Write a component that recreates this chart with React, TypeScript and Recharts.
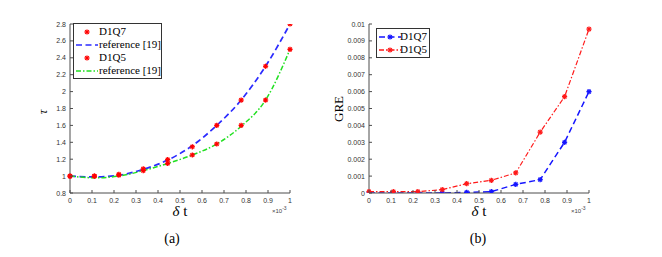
import React from 'react';
import { LineChart, Line, XAxis, YAxis } from 'recharts';

// delta t (x 1e-3)
const DELTA_T = [0, 0.111, 0.222, 0.333, 0.444, 0.556, 0.667, 0.778, 0.889, 1];

// panel (a): tau
const TAU_D1Q7 = [1.0, 1.0, 1.02, 1.085, 1.195, 1.347, 1.6, 1.9, 2.3, 2.8];
const TAU_REF7 = [1.0, 0.99, 1.01, 1.08, 1.19, 1.36, 1.6, 1.9, 2.3, 2.8];
const TAU_D1Q5 = [1.0, 1.0, 1.01, 1.065, 1.15, 1.25, 1.38, 1.6, 1.9, 2.5];
const TAU_REF5 = [1.0, 0.98, 1.0, 1.065, 1.15, 1.25, 1.38, 1.59, 1.9, 2.5];

// panel (b): GRE
const GRE_D1Q7 = [0, 0, 0, 0, 0.00004, 0.00008, 0.00051, 0.00079, 0.003, 0.006];
const GRE_D1Q5 = [0.00008, 0.00008, 0.00008, 0.0002, 0.00055, 0.00075, 0.00119, 0.0036, 0.0057, 0.0097];

const X_TICKS = [0, 0.1, 0.2, 0.3, 0.4, 0.5, 0.6, 0.7, 0.8, 0.9, 1];
const TAU_TICKS = [0.8, 1, 1.2, 1.4, 1.6, 1.8, 2, 2.2, 2.4, 2.6, 2.8];
const GRE_TICKS = [0, 0.001, 0.002, 0.003, 0.004, 0.005, 0.006, 0.007, 0.008, 0.009, 0.01];

const tauData = DELTA_T.map((x, i) => ({
  x, d1q7: TAU_D1Q7[i], ref7: TAU_REF7[i], d1q5: TAU_D1Q5[i], ref5: TAU_REF5[i],
}));
const greData = DELTA_T.map((x, i) => ({ x, d1q7: GRE_D1Q7[i], d1q5: GRE_D1Q5[i] }));

const AXIS = '#4d4d4d';
const TICK_FONT = 'Liberation Sans, Arial, sans-serif';
const SERIF = '"Liberation Serif", "Times New Roman", serif';
const BLUE_DASH = '6 3.5';
const DASH_DOT = '5 2 1.5 2';

function Star({ cx, cy, color }: any) {
  if (cx == null || cy == null) return null;
  const r = 2.6;
  const d = r * 0.72;
  return (
    <g stroke={color} strokeWidth={1.3}>
      <line x1={cx - r} y1={cy} x2={cx + r} y2={cy} />
      <line x1={cx} y1={cy - r} x2={cx} y2={cy + r} />
      <line x1={cx - d} y1={cy - d} x2={cx + d} y2={cy + d} />
      <line x1={cx - d} y1={cy + d} x2={cx + d} y2={cy - d} />
    </g>
  );
}

const fmt = (v: number) => String(Number(v.toFixed(4)));

function LeftTick({ x, y, payload }: any) {
  return (
    <g>
      <line x1={x + 4} x2={x + 7} y1={y} y2={y} stroke={AXIS} />
      <text x={x} y={y} dy={2.5} textAnchor="end" fontSize={7} fontFamily={TICK_FONT} fill="#333">
        {fmt(payload.value)}
      </text>
    </g>
  );
}
function BottomTick({ x, y, payload }: any) {
  return (
    <g>
      <line x1={x} x2={x} y1={y - 4} y2={y - 7} stroke={AXIS} />
      <text x={x} y={y} dy={6} textAnchor="middle" fontSize={7} fontFamily={TICK_FONT} fill="#333">
        {fmt(payload.value)}
      </text>
    </g>
  );
}
function RightTick({ x, y }: any) {
  return <line x1={x - 4} x2={x - 7} y1={y} y2={y} stroke={AXIS} />;
}
function TopTick({ x, y }: any) {
  return <line x1={x} x2={x} y1={y + 4} y2={y + 7} stroke={AXIS} />;
}

function Sample({ color, dash, marker }: { color?: string; dash?: string; marker?: string }) {
  return (
    <svg width={24} height={10} style={{ display: 'block' }}>
      {dash != null && (
        <line x1={1} x2={23} y1={5} y2={5} stroke={color} strokeWidth={1.6} strokeDasharray={dash} />
      )}
      {marker && <Star cx={12} cy={5} color={marker} />}
    </svg>
  );
}

const LEGEND_A = [
  { name: 'D1Q7', marker: 'red' },
  { name: 'reference [19]', color: '#2b2bff', dash: BLUE_DASH },
  { name: 'D1Q5', marker: 'red' },
  { name: 'reference [19]', color: '#22e022', dash: DASH_DOT },
];
const LEGEND_B = [
  { name: 'D1Q7', color: '#1515ff', dash: BLUE_DASH, marker: '#1515ff' },
  { name: 'D1Q5', color: '#ff1a1a', dash: DASH_DOT, marker: '#ff1a1a' },
];

function LegendBox({ items, left, top, width, sampleW = 24 }: any) {
  return (
    <div style={{
      position: 'absolute', left, top, width, border: '1px solid #333', background: '#fff',
      padding: '1px 0', boxSizing: 'border-box', whiteSpace: 'nowrap',
    }}>
      {items.map((it: any, i: number) => (
        <div key={i} style={{ display: 'flex', alignItems: 'center', height: 13 }}>
          <div style={{ width: sampleW, marginLeft: 1, flexShrink: 0 }}>
            <Sample color={it.color} dash={it.dash} marker={it.marker} />
          </div>
          <span style={{ fontFamily: SERIF, fontSize: 11, color: '#000', lineHeight: '13px' }}>{it.name}</span>
        </div>
      ))}
    </div>
  );
}

export default function App() {
  return (
    <div style={{ position: 'absolute', left: 0, top: 0, width: 662, height: 257, background: '#fff', overflow: 'hidden' }}>
      <div style={{ position: 'absolute', left: 0, top: 0 }}>
        <LineChart width={300} height={257} data={tauData} margin={{ top: 24, right: 10, bottom: 34, left: 0 }}>
          <XAxis
            dataKey="x" type="number" domain={[0, 1]} ticks={X_TICKS} height={30}
            stroke={AXIS} tickSize={0} tickMargin={4} tick={<BottomTick />} interval={0}
          />
          <XAxis
            xAxisId="top" orientation="top" dataKey="x" type="number" domain={[0, 1]} ticks={X_TICKS} height={0}
            stroke={AXIS} tickSize={0} tickMargin={4} tick={<TopTick />} interval={0}
          />
          <YAxis
            type="number" domain={[0.8, 2.8]} ticks={TAU_TICKS} width={70} allowDataOverflow
            stroke={AXIS} tickSize={0} tickMargin={4} tick={<LeftTick />} interval={0}
          />
          <YAxis
            yAxisId="right" orientation="right" type="number" domain={[0.8, 2.8]} ticks={TAU_TICKS} width={0}
            stroke={AXIS} tickSize={0} tickMargin={4} tick={<RightTick />} interval={0}
          />
          <Line dataKey="d1q7" name="D1Q7" stroke="none" isAnimationActive={false}
            dot={(p: any) => <Star key={p.index} cx={p.cx} cy={p.cy} color="red" />} />
          <Line dataKey="d1q5" name="D1Q5" stroke="none" isAnimationActive={false}
            dot={(p: any) => <Star key={p.index} cx={p.cx} cy={p.cy} color="red" />} />
          <Line dataKey="ref7" name="reference [19]" type="monotone" stroke="#2b2bff" strokeWidth={1.7}
            strokeDasharray={BLUE_DASH} dot={false} isAnimationActive={false} />
          <Line dataKey="ref5" name="reference [19]" type="monotone" stroke="#22e022" strokeWidth={1.5}
            strokeDasharray={DASH_DOT} dot={false} isAnimationActive={false} />
        </LineChart>
      </div>
      <div style={{ position: 'absolute', left: 300, top: 0 }}>
        <LineChart width={300} height={257} data={greData} margin={{ top: 24, right: 11, bottom: 34, left: 0 }}>
          <XAxis
            dataKey="x" type="number" domain={[0, 1]} ticks={X_TICKS} height={30}
            stroke={AXIS} tickSize={0} tickMargin={4} tick={<BottomTick />} interval={0}
          />
          <XAxis
            xAxisId="top" orientation="top" dataKey="x" type="number" domain={[0, 1]} ticks={X_TICKS} height={0}
            stroke={AXIS} tickSize={0} tickMargin={4} tick={<TopTick />} interval={0}
          />
          <YAxis
            type="number" domain={[0, 0.01]} ticks={GRE_TICKS} width={69} allowDataOverflow
            stroke={AXIS} tickSize={0} tickMargin={4} tick={<LeftTick />} interval={0}
          />
          <YAxis
            yAxisId="right" orientation="right" type="number" domain={[0, 0.01]} ticks={GRE_TICKS} width={0}
            stroke={AXIS} tickSize={0} tickMargin={4} tick={<RightTick />} interval={0}
          />
          <Line dataKey="d1q7" name="D1Q7" stroke="#1515ff" strokeWidth={1.5} strokeDasharray={BLUE_DASH}
            isAnimationActive={false}
            dot={(p: any) => <Star key={p.index} cx={p.cx} cy={p.cy} color="#1515ff" />} />
          <Line dataKey="d1q5" name="D1Q5" stroke="#ff1a1a" strokeWidth={1.2} strokeDasharray={DASH_DOT}
            isAnimationActive={false}
            dot={(p: any) => <Star key={p.index} cx={p.cx} cy={p.cy} color="#ff1a1a" />} />
        </LineChart>
      </div>

      <LegendBox items={LEGEND_A} left={73} top={23} width={89} />
      <LegendBox items={LEGEND_B} left={376} top={28} width={54} sampleW={22} />

      {/* axis labels */}
      <div style={{ position: 'absolute', left: 41, top: 104, transform: 'rotate(-90deg)', fontFamily: SERIF, fontSize: 13, fontStyle: 'italic' }}>τ</div>
      <div style={{ position: 'absolute', left: 324, top: 101, width: 30, textAlign: 'center', transform: 'rotate(-90deg)', fontFamily: SERIF, fontSize: 13 }}>GRE</div>
      <div style={{ position: 'absolute', left: 160, top: 203, width: 40, textAlign: 'center', fontFamily: SERIF, fontSize: 15 }}>
        <i>δ</i> t
      </div>
      <div style={{ position: 'absolute', left: 459, top: 203, width: 40, textAlign: 'center', fontFamily: SERIF, fontSize: 15 }}>
        <i>δ</i> t
      </div>
      <div style={{ position: 'absolute', left: 272, top: 205, fontFamily: TICK_FONT, fontSize: 6, color: '#444' }}>
        ×10<sup style={{ fontSize: 5 }}>-3</sup>
      </div>
      <div style={{ position: 'absolute', left: 571, top: 205, fontFamily: TICK_FONT, fontSize: 6, color: '#444' }}>
        ×10<sup style={{ fontSize: 5 }}>-3</sup>
      </div>
      <div style={{ position: 'absolute', left: 152, top: 231, width: 40, textAlign: 'center', fontFamily: SERIF, fontSize: 14 }}>(a)</div>
      <div style={{ position: 'absolute', left: 458, top: 231, width: 40, textAlign: 'center', fontFamily: SERIF, fontSize: 14 }}>(b)</div>
    </div>
  );
}
